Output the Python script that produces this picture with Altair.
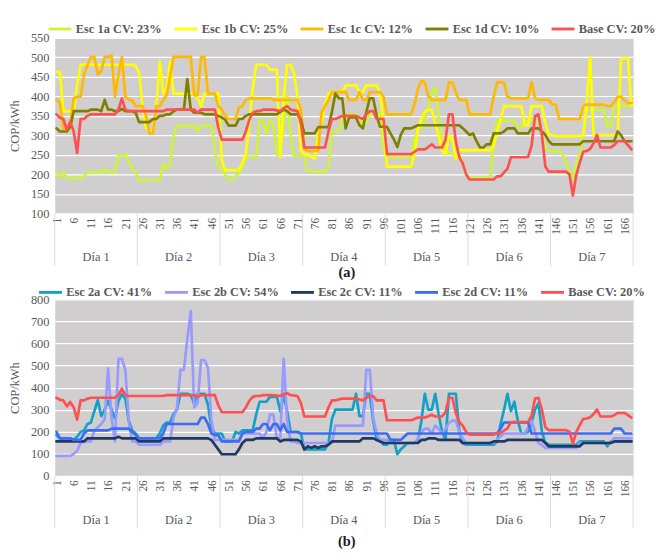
import altair as alt
import pandas as pd

# ---------------- data ----------------
HOURS = list(range(1, 169))
TICKS = [1, 6, 11, 16, 21, 26, 31, 36, 41, 46, 51, 56, 61, 66, 71, 76, 81, 86,
         91, 96, 101, 106, 111, 116, 121, 126, 131, 136, 141, 146, 151, 156, 161, 166]
DAYS = ["Día 1", "Día 2", "Día 3", "Día 4", "Día 5", "Día 6", "Día 7"]
DAY_CENTERS = [12.5, 36.5, 60.5, 84.5, 108.5, 132.5, 156.5]
DAY_EDGES = [0.5, 24.5, 48.5, 72.5, 96.5, 120.5, 144.5, 168.5]
Y_TICKS_A = [100, 150, 200, 250, 300, 350, 400, 450, 500, 550]
Y_TICKS_B = [0, 100, 200, 300, 400, 500, 600, 700, 800]

NAMES_A = ["Esc 1a CV: 23%", "Esc 1b CV: 25%", "Esc 1c CV: 12%", "Esc 1d CV: 10%", "Base CV: 20%"]
COLORS_A = ["#ccf53a", "#ffff00", "#ffb900", "#808000", "#ff5050"]
NAMES_B = ["Esc 2a CV: 41%", "Esc 2b CV: 54%", "Esc 2c CV: 11%", "Esc 2d CV: 11%", "Base CV: 20%"]
COLORS_B = ["#12a2c8", "#9999ff", "#203864", "#3c6cf5", "#ff5050"]

ESC_1A = [
    205, 192, 205, 192, 190, 190, 190, 190, 195, 205, 205, 205, 205, 205, 215, 205, 205, 205, 250, 250, 250, 230, 215, 205,
    185, 185, 185, 185, 185, 185, 185, 225, 215, 225, 300, 325, 325, 325, 325, 325, 325, 310, 325, 325, 325, 325, 260, 220,
    211, 200, 186, 186, 195, 203, 220, 245, 245, 245, 245, 338, 338, 305, 338, 330, 250, 250, 330, 405, 300, 248, 248, 248,
    248, 211, 207, 207, 207, 207, 207, 220, 310, 310, 310, 340, 354, 354, 354, 354, 334, 334, 334, 354, 354, 354, 354, 260,
    248, 244, 244, 244, 244, 244, 244, 244, 290, 317, 317, 340, 375, 410, 424, 350, 290, 260, 255, 252, 250, 250, 230, 200,
    191, 191, 191, 191, 191, 191, 191, 293, 338, 338, 338, 338, 338, 338, 320, 320, 338, 338, 338, 338, 338, 300, 270, 260,
    260, 260, 260, 252, 230, 205, 191, 230, 252, 300, 366, 366, 366, 366, 366, 366, 322, 322, 375, 375, 375, 375, 375, 375,
]
ESC_1B = [
    463, 463, 362, 362, 362, 362, 430, 481, 481, 481, 481, 481, 481, 481, 481, 481, 481, 481, 481, 481, 481, 481, 481, 478,
    460, 375, 320, 310, 310, 375, 489, 407, 420, 489, 407, 407, 407, 407, 407, 407, 407, 395, 375, 407, 407, 407, 407, 407,
    236, 211, 211, 211, 211, 211, 230, 252, 330, 420, 481, 481, 481, 481, 468, 468, 468, 244, 400, 481, 481, 460, 400, 260,
    252, 252, 245, 240, 300, 334, 380, 407, 411, 411, 411, 411, 428, 428, 428, 428, 411, 411, 428, 428, 428, 428, 411, 330,
    220, 220, 220, 220, 220, 220, 220, 220, 252, 317, 342, 360, 366, 366, 330, 300, 260, 252, 300, 290, 240, 262, 262, 262,
    262, 262, 262, 262, 262, 262, 262, 273, 310, 340, 375, 375, 375, 375, 375, 375, 326, 326, 375, 375, 375, 375, 330, 301,
    301, 298, 298, 298, 298, 298, 298, 298, 298, 301, 380, 501, 301, 301, 301, 301, 301, 301, 301, 301, 497, 497, 497, 375,
]
ESC_1C = [
    391, 383, 318, 310, 330, 395, 399, 399, 456, 480, 501, 501, 456, 465, 501, 501, 505, 399, 456, 501, 399, 391, 391, 375,
    375, 375, 350, 305, 305, 375, 375, 391, 403, 450, 501, 501, 501, 501, 501, 501, 403, 403, 501, 501, 407, 407, 407, 375,
    366, 350, 342, 342, 342, 371, 375, 391, 395, 395, 395, 395, 395, 395, 395, 391, 391, 391, 391, 391, 391, 391, 391, 366,
    265, 260, 260, 260, 260, 358, 375, 390, 411, 411, 411, 411, 411, 391, 391, 391, 411, 391, 391, 411, 411, 411, 411, 399,
    354, 354, 354, 354, 354, 354, 354, 354, 380, 420, 440, 436, 400, 391, 391, 391, 391, 391, 436, 436, 410, 391, 391, 391,
    354, 354, 354, 354, 354, 354, 354, 400, 436, 436, 436, 399, 395, 395, 395, 395, 395, 395, 436, 395, 391, 391, 391, 391,
    379, 379, 342, 342, 342, 342, 342, 342, 342, 375, 379, 379, 379, 379, 379, 379, 375, 375, 385, 399, 399, 390, 383, 383,
]
ESC_1D = [
    318, 310, 310, 310, 322, 362, 362, 362, 362, 362, 366, 366, 366, 362, 391, 366, 366, 362, 362, 368, 362, 362, 362, 358,
    334, 334, 334, 334, 342, 342, 350, 350, 354, 354, 362, 366, 366, 366, 444, 366, 358, 358, 358, 354, 354, 354, 354, 350,
    346, 340, 325, 325, 325, 342, 342, 350, 354, 354, 354, 354, 354, 354, 354, 354, 354, 360, 366, 362, 354, 354, 354, 340,
    305, 305, 305, 305, 321, 321, 321, 321, 360, 407, 395, 395, 318, 346, 346, 346, 326, 318, 360, 395, 395, 350, 322, 322,
    322, 305, 290, 270, 301, 318, 318, 318, 322, 326, 326, 326, 326, 326, 326, 326, 326, 326, 326, 326, 326, 326, 318, 310,
    301, 305, 285, 269, 269, 277, 277, 305, 305, 305, 310, 318, 318, 318, 305, 305, 305, 305, 318, 318, 318, 310, 301, 285,
    277, 277, 277, 277, 277, 277, 277, 277, 277, 285, 285, 285, 285, 285, 285, 285, 285, 285, 285, 310, 300, 285, 285, 285,
]
BASE = [
    354, 345, 342, 315, 335, 310, 255, 342, 342, 350, 354, 354, 354, 354, 354, 354, 354, 354, 366, 395, 366, 362, 362, 362,
    362, 362, 362, 362, 362, 362, 362, 362, 366, 366, 366, 366, 366, 366, 366, 366, 366, 358, 366, 366, 366, 366, 366, 320,
    289, 289, 289, 289, 289, 289, 289, 310, 340, 358, 362, 362, 366, 366, 366, 366, 364, 362, 370, 375, 366, 364, 362, 330,
    269, 269, 269, 269, 269, 269, 269, 310, 342, 342, 346, 350, 350, 350, 350, 350, 346, 342, 354, 362, 362, 342, 342, 342,
    252, 252, 252, 252, 252, 252, 252, 252, 258, 264, 264, 264, 270, 277, 269, 269, 269, 289, 354, 354, 285, 244, 228, 200,
    187, 187, 187, 187, 187, 187, 187, 187, 195, 195, 205, 215, 244, 244, 244, 244, 244, 245, 273, 350, 354, 300, 220, 207,
    207, 207, 207, 207, 207, 200, 146, 199, 230, 258, 260, 265, 280, 301, 269, 269, 269, 269, 275, 285, 285, 285, 275, 264,
]
ESC_2A = [
    185, 170, 170, 170, 170, 163, 177, 199, 206, 235, 242, 293, 343, 271, 300, 340, 300, 260, 340, 370, 350, 250, 206, 192,
    170, 170, 170, 170, 170, 170, 192, 228, 242, 242, 280, 300, 372, 372, 372, 365, 329, 372, 372, 372, 322, 220, 192, 192,
    192, 156, 156, 156, 199, 192, 206, 206, 206, 206, 278, 336, 336, 336, 358, 358, 360, 293, 365, 293, 199, 199, 199, 192,
    120, 120, 120, 120, 120, 120, 120, 149, 257, 300, 300, 300, 300, 300, 300, 372, 271, 271, 372, 372, 250, 163, 163, 141,
    141, 163, 163, 98, 120, 134, 149, 149, 149, 160, 250, 372, 300, 300, 372, 280, 200, 163, 372, 372, 372, 199, 149, 141,
    141, 141, 141, 141, 141, 141, 141, 141, 156, 235, 300, 372, 293, 336, 250, 192, 192, 200, 242, 300, 330, 200, 150, 141,
    141, 141, 141, 141, 141, 141, 141, 141, 156, 156, 156, 156, 156, 156, 156, 156, 134, 156, 156, 156, 156, 156, 156, 156,
]
ESC_2B = [
    91, 91, 91, 91, 91, 100, 113, 149, 156, 156, 156, 206, 220, 235, 257, 487, 264, 156, 530, 530, 480, 250, 156, 156,
    141, 141, 141, 141, 141, 141, 141, 156, 156, 156, 264, 307, 480, 480, 620, 747, 310, 330, 525, 525, 490, 250, 163, 163,
    163, 163, 163, 163, 163, 163, 192, 192, 192, 192, 192, 192, 170, 200, 278, 278, 170, 170, 530, 250, 156, 156, 149, 149,
    149, 149, 149, 149, 149, 149, 149, 149, 149, 228, 228, 228, 228, 228, 228, 228, 228, 228, 480, 480, 264, 192, 163, 163,
    163, 149, 149, 149, 149, 149, 149, 149, 149, 170, 200, 214, 214, 192, 228, 214, 192, 214, 240, 250, 250, 200, 170, 149,
    149, 149, 149, 149, 149, 149, 149, 149, 163, 180, 192, 192, 192, 192, 192, 192, 192, 220, 250, 200, 149, 140, 127, 127,
    127, 127, 127, 127, 127, 127, 127, 127, 149, 149, 149, 149, 149, 149, 149, 149, 149, 149, 170, 170, 170, 170, 170, 170,
]
ESC_2C = [
    156, 156, 156, 156, 156, 156, 156, 156, 156, 170, 170, 170, 170, 170, 170, 170, 170, 170, 177, 170, 170, 170, 170, 170,
    156, 156, 156, 156, 156, 156, 156, 170, 170, 170, 170, 170, 170, 170, 170, 170, 170, 170, 170, 170, 170, 163, 141, 120,
    98, 98, 98, 98, 98, 120, 149, 163, 163, 163, 170, 170, 170, 170, 170, 170, 170, 156, 163, 163, 163, 163, 163, 156,
    120, 134, 127, 134, 127, 134, 134, 141, 156, 156, 156, 156, 156, 156, 156, 156, 156, 170, 170, 170, 170, 163, 156, 149,
    149, 149, 149, 149, 149, 149, 149, 149, 149, 149, 163, 163, 170, 170, 170, 163, 163, 163, 163, 163, 163, 163, 149, 149,
    149, 149, 149, 149, 149, 149, 149, 156, 156, 156, 156, 163, 163, 163, 163, 163, 163, 163, 163, 163, 163, 163, 149, 134,
    134, 134, 134, 134, 134, 134, 134, 134, 134, 149, 149, 149, 149, 149, 149, 149, 149, 149, 156, 156, 156, 156, 156, 156,
]
ESC_2D = [
    199, 170, 170, 170, 170, 163, 163, 163, 192, 206, 206, 206, 206, 206, 206, 206, 214, 214, 214, 214, 214, 214, 199, 185,
    170, 170, 170, 170, 170, 170, 170, 192, 235, 235, 235, 235, 235, 235, 235, 235, 235, 235, 264, 264, 235, 192, 185, 185,
    156, 156, 156, 156, 156, 156, 192, 199, 199, 199, 214, 214, 235, 235, 206, 235, 235, 206, 235, 199, 199, 199, 199, 192,
    192, 192, 192, 192, 192, 192, 192, 192, 192, 192, 192, 192, 192, 192, 192, 192, 192, 192, 192, 192, 192, 192, 192, 192,
    192, 163, 163, 163, 163, 177, 192, 192, 192, 192, 192, 192, 192, 192, 192, 192, 192, 192, 192, 192, 192, 192, 192, 192,
    192, 192, 192, 192, 192, 192, 192, 192, 192, 214, 242, 242, 242, 242, 242, 242, 242, 242, 192, 192, 192, 192, 192, 192,
    192, 192, 192, 192, 192, 192, 192, 192, 192, 192, 192, 192, 192, 192, 192, 192, 192, 192, 214, 214, 214, 192, 192, 192,
]

# ---------------- style ----------------
FONT = "Liberation Serif, Times New Roman, DejaVu Serif, serif"
GRAY = "#595959"
W = 606


def panel(names, colors, series, ydom, yticks, H, lx, ly, tag, tag_dy):
    frames = [pd.DataFrame({"hour": HOURS, "value": vals, "series": name})
              for name, vals in zip(names, series)]
    df = pd.concat(frames, ignore_index=True)

    legend = alt.Legend(
        orient="none", legendX=lx, legendY=ly, direction="horizontal", title=None,
        symbolType="M-1,0H3", symbolSize=144, symbolStrokeWidth=3, labelOffset=15,
        columnPadding=6, labelFont=FONT, labelFontSize=13, labelFontWeight="bold",
        labelColor=GRAY, padding=0, labelLimit=220,
    )
    color = alt.Color("series:N", scale=alt.Scale(domain=names, range=colors), legend=legend)
    x = alt.X("hour:Q", scale=alt.Scale(domain=[0.5, 168.5], nice=False, zero=False),
              axis=alt.Axis(values=TICKS, labelAngle=270, grid=False, domain=False, ticks=False,
                            title=None, labelFont=FONT, labelFontSize=12, labelColor=GRAY,
                            labelPadding=4, labelOverlap=False, labelFlush=False))
    y = alt.Y("value:Q", scale=alt.Scale(domain=ydom, nice=False, zero=False),
              axis=alt.Axis(values=yticks, title="COP/kWh", grid=True, gridColor="#ffffff",
                            gridWidth=1.3, domain=False, ticks=False, labelFont=FONT,
                            labelFontSize=13, labelColor=GRAY, labelPadding=6,
                            titleFont=FONT, titleFontSize=13, titleFontWeight="normal",
                            titleColor=GRAY, titlePadding=9))

    layers = []
    for n in names:
        layers.append(
            alt.Chart(df).transform_filter(alt.datum.series == n)
            .mark_line(strokeWidth=2.8, strokeJoin="round", strokeCap="round")
            .encode(x=x, y=y, color=color)
        )
    rules = alt.Chart(pd.DataFrame({"hour": DAY_EDGES})).mark_rule(
        color="#d9d9d9", strokeWidth=1
    ).encode(x=x, y=alt.value(H), y2=alt.value(H + 55))
    days = alt.Chart(pd.DataFrame({"hour": DAY_CENTERS, "day": DAYS})).mark_text(
        font=FONT, fontSize=13, color=GRAY
    ).encode(x=x, y=alt.value(H + 46), text="day:N")
    label = alt.Chart(pd.DataFrame({"t": [tag]})).mark_text(
        font=FONT, fontSize=15, fontWeight="bold", color="#1a1a1a"
    ).encode(x=alt.value(306), y=alt.value(H + tag_dy), text="t:N")
    return alt.layer(*layers, rules, days, label).properties(width=W, height=H)


pa = panel(NAMES_A, COLORS_A, [ESC_1A, ESC_1B, ESC_1C, ESC_1D, BASE],
           [100, 550], Y_TICKS_A, 184, -8, -17, "(a)", 62)
pb = panel(NAMES_B, COLORS_B, [ESC_2A, ESC_2B, ESC_2C, ESC_2D, BASE],
           [0, 800], Y_TICKS_B, 185, -18, -15, "(b)", 68)

chart = (
    alt.vconcat(pa, pb, spacing=3)
    .resolve_scale(color="independent", x="independent", y="independent")
    .resolve_legend(color="independent")
    .properties(padding={"left": 1, "top": 0, "right": 0, "bottom": 0})
    .configure(font=FONT)
    .configure_view(fill="#d0cece", stroke="transparent")
)

chart.save("out.html", embed_options={"renderer": "svg", "actions": False})
